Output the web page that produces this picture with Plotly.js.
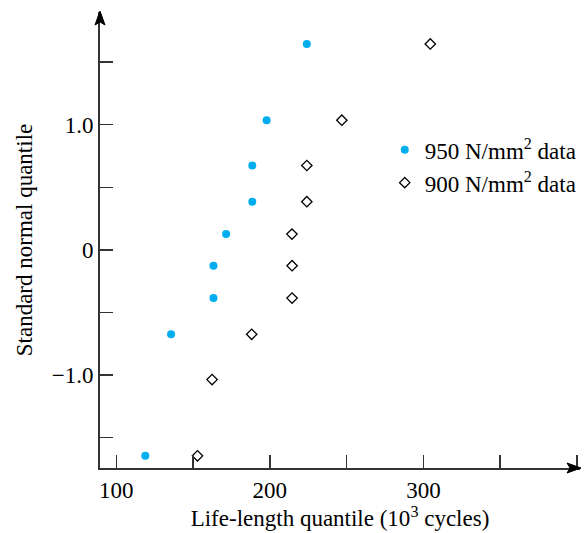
<!DOCTYPE html>
<html>
<head>
<meta charset="utf-8">
<script src="https://cdn.plot.ly/plotly-3.0.1.min.js"></script>
<style>html,body{margin:0;padding:0;background:#fff;}#chart{width:586px;height:533px;}</style>
</head>
<body>
<div id="chart"></div>
<script>
// 950 N/mm^2 data (life-length quantile, 10^3 cycles) vs standard normal quantile
const x950 = [118.9, 135.7, 163.3, 163.3, 171.5, 188.6, 188.6, 197.9, 224.1];
const y950 = [-1.645, -0.674, -0.385, -0.126, 0.126, 0.385, 0.674, 1.036, 1.645];
// 900 N/mm^2 data
const x900 = [152.9, 162.4, 188.2, 214.5, 214.5, 214.4, 224.1, 224.1, 246.9, 304.5];
const y900 = [-1.645, -1.036, -0.674, -0.385, -0.126, 0.126, 0.385, 0.674, 1.036, 1.645];

const xTickVals = [100, 200, 300];
const xTickText = ['100', '200', '300'];
const yTickVals = [-1.0, 0, 1.0];
const yTickText = ['\u22121.0', '0', '1.0'];

const serif = 'Liberation Serif, Times New Roman, serif';
const FS = 23;

const traces = [
  {x: x950, y: y950, type: 'scatter', mode: 'markers', name: '950 N/mm<sup>2</sup> data',
   marker: {color: '#00aeef', size: 8, symbol: 'circle'}},
  {x: x900, y: y900, type: 'scatter', mode: 'markers', name: '900 N/mm<sup>2</sup> data',
   marker: {color: '#000', size: 8, symbol: 'diamond-open', line: {width: 1.3, color: '#000'}}}
];

const tickStyle = {ticks: 'inside', ticklen: 13, tickwidth: 1.5, tickcolor: '#333'};

const layout = {
  width: 586, height: 533,
  margin: {l: 100, r: 5, t: 12, b: 65},
  paper_bgcolor: '#fff', plot_bgcolor: '#fff',
  font: {family: serif, size: FS, color: '#000'},
  showlegend: true,
  legend: {x: 0.592, y: 0.745, xanchor: 'left', yanchor: 'top', bgcolor: 'rgba(0,0,0,0)',
           font: {family: serif, size: FS, color: '#000'}, itemwidth: 30},
  xaxis: Object.assign({
    range: [89.4, 402], showgrid: false, zeroline: false,
    showline: true, linecolor: '#333', linewidth: 2,
    tickmode: 'array', tickvals: xTickVals, ticktext: xTickText,
    tickfont: {family: serif, size: FS, color: '#000'},
    minor: {dtick: 50, tick0: 0, ticks: 'inside', ticklen: 13, tickwidth: 1.5, tickcolor: '#333', showgrid: false},
    title: {text: 'Life-length quantile (10<sup>3</sup> cycles)', font: {family: serif, size: FS, color: '#000'}, standoff: 3}
  }, tickStyle),
  yaxis: Object.assign({
    range: [-1.742, 1.9], showgrid: false, zeroline: false,
    showline: true, linecolor: '#333', linewidth: 2,
    tickmode: 'array', tickvals: yTickVals, ticktext: yTickText,
    tickfont: {family: serif, size: FS, color: '#000'},
    minor: {dtick: 0.5, tick0: 0, ticks: 'inside', ticklen: 13, tickwidth: 1.5, tickcolor: '#333', showgrid: false},
    title: {text: 'Standard normal quantile', font: {family: serif, size: FS, color: '#000'}, standoff: 13}
  }, tickStyle),
  shapes: [
    {type: 'path', xref: 'paper', yref: 'paper', xsizemode: 'pixel', ysizemode: 'pixel',
     xanchor: 1, yanchor: 0, path: 'M1,0 L-13,5 L-10,0 L-13,-5 Z',
     fillcolor: '#000', line: {color: '#000', width: 1}},
    {type: 'path', xref: 'paper', yref: 'paper', xsizemode: 'pixel', ysizemode: 'pixel',
     xanchor: 0, yanchor: 1, path: 'M0,1 L5,-13 L0,-10 L-5,-13 Z',
     fillcolor: '#000', line: {color: '#000', width: 1}}
  ]
};

Plotly.newPlot('chart', traces, layout, {displayModeBar: false, staticPlot: true});
</script>
</body>
</html>
